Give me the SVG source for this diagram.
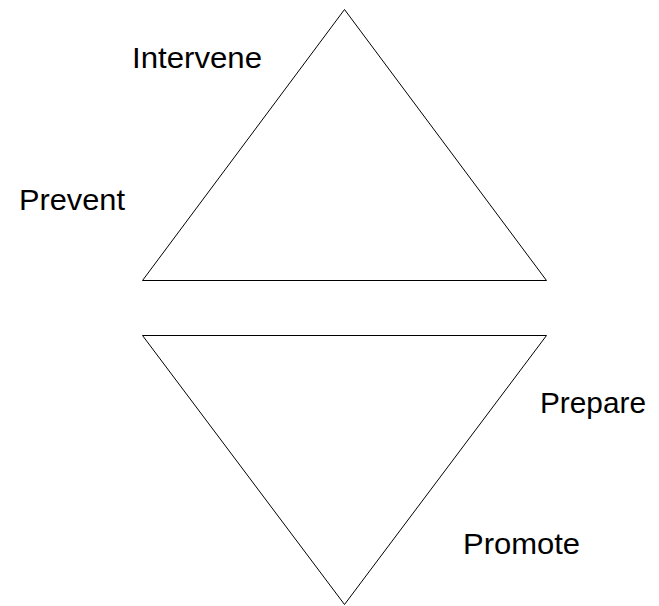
<svg xmlns="http://www.w3.org/2000/svg" width="659" height="606" viewBox="0 0 659 606">
<style>
.tri{fill:none;stroke:#000;stroke-width:1}
.lbl{font-family:"Liberation Sans",Arial,sans-serif;font-size:30px;fill:#000}
</style>
<rect width="659" height="606" fill="#fff"/>
<g id="top-triangle"><polygon class="tri" points="344.5,9.5 142.5,280.5 546.5,280.5"/></g>
<g id="bottom-triangle"><polygon class="tri" points="142.5,335.5 546.5,335.5 344.5,604.5"/></g>
<g id="labels">
<text id="intervene" class="lbl" x="132" y="68" textLength="130" lengthAdjust="spacingAndGlyphs">Intervene</text>
<text id="prevent" class="lbl" x="19" y="210" textLength="106" lengthAdjust="spacingAndGlyphs">Prevent</text>
<text id="prepare" class="lbl" x="540" y="413" textLength="106" lengthAdjust="spacingAndGlyphs">Prepare</text>
<text id="promote" class="lbl" x="463" y="554" textLength="117" lengthAdjust="spacingAndGlyphs">Promote</text>
</g>
</svg>
